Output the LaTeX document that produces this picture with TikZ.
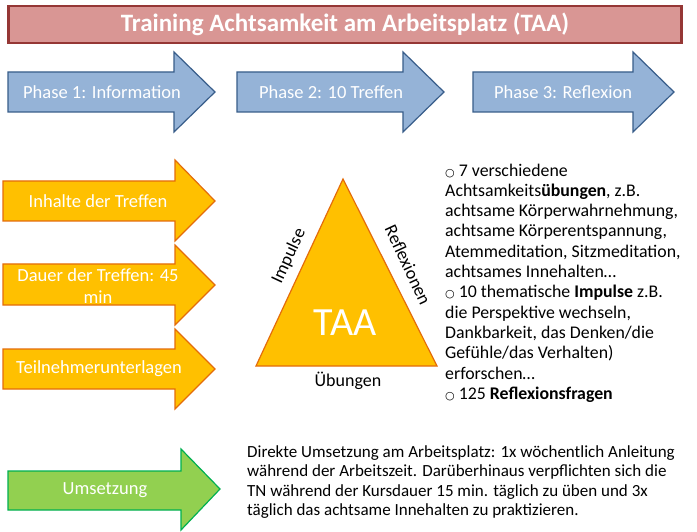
\documentclass[tikz,border=0pt]{standalone}
\usepackage{fontspec}
\setmainfont{Carlito}
\newfontfamily\dejavu{DejaVu Sans}
\definecolor{titleF}{HTML}{D99694}
\definecolor{titleD}{HTML}{953735}
\definecolor{blueF}{HTML}{95B3D7}
\definecolor{blueD}{HTML}{385D8A}
\definecolor{orF}{HTML}{FFC000}
\definecolor{orD}{HTML}{E46C0A}
\definecolor{grF}{HTML}{92D050}
\definecolor{grD}{HTML}{00B050}
\newcommand{\bul}{{\dejavu\fontsize{11}{11}\selectfont ○}}
\tikzset{
  bluearr/.style={fill=blueF, draw=blueD, line width=1.2pt, line join=miter},
  orarr/.style={fill=orF, draw=orD, line width=1.2pt, line join=miter},
  grarr/.style={fill=grF, draw=grD, line width=1.2pt, line join=miter},
  arrtext/.style={text=white, font=\fontsize{18.5}{22}\selectfont, align=center, inner sep=0pt},
  tritext/.style={text=black, font=\fontsize{18}{21}\selectfont, inner sep=0pt},
  bodytext/.style={text=black, align=left, inner sep=0pt, anchor=base west}
}
\begin{document}
\begin{tikzpicture}[x=1pt,y=-1pt]
\useasboundingbox[fill=white] (0,0) rectangle (697,532);
% title
\node[draw=titleD, fill=titleF, line width=2.5pt, minimum width=673pt, minimum height=37pt, inner sep=0pt,
  text=white, font=\bfseries\fontsize{25}{29}\selectfont] (title) at (345,24.5) {Training Achtsamkeit am Arbeitsplatz (TAA)};
% phase arrows
\draw[bluearr] (8,72) -- (174,72) -- (174,52) -- (215,92) -- (174,132) -- (174,112) -- (8,112) -- cycle;
\node[arrtext] (ph1) at (102,92) {Phase 1: Information};
\draw[bluearr] (237,72) -- (403,72) -- (403,52) -- (444,92) -- (403,132) -- (403,112) -- (237,112) -- cycle;
\node[arrtext] (ph2) at (331,92) {Phase 2: 10 Treffen};
\draw[bluearr] (473,72) -- (633,72) -- (633,52) -- (674,92) -- (633,132) -- (633,112) -- (473,112) -- cycle;
\node[arrtext] (ph3) at (563,92) {Phase 3: Reflexion};
% orange arrows
\draw[orarr] (3,181) -- (175,181) -- (175,160) -- (215,201) -- (175,241) -- (175,221) -- (3,221) -- cycle;
\node[arrtext] (inh) at (98,201) {Inhalte der Treffen};
\draw[orarr] (3,264) -- (175,264) -- (175,245) -- (215,285) -- (175,325) -- (175,305) -- (3,305) -- cycle;
\node[arrtext, font=\fontsize{18.5}{22}\selectfont] (dau) at (98,286) {Dauer der Treffen: 45\\min};
\draw[orarr] (3,349) -- (175,349) -- (175,329) -- (215,369) -- (175,409) -- (175,389) -- (3,389) -- cycle;
\node[arrtext] (teil) at (99,369) {Teilnehmerunterlagen};
% triangle
\coordinate (ta) at (343,179);
\coordinate (tr) at (437,366);
\coordinate (tl) at (256,366);
\draw[orarr] (ta) -- (tr) -- (tl) -- cycle;
\node[text=white, font=\fontsize{40}{44}\selectfont, inner sep=0pt] (taa) at (345,323) {TAA};
\node[tritext] (ueb) at (348,381) {Übungen};
\node[tritext, rotate=65] (imp) at (289,256) {Impulse};
\node[tritext, rotate=-65] (ref) at (408,265) {Reflexionen};
% info text (anchor = baseline of last line)
\node[bodytext, font=\fontsize{17.8}{20.3}\selectfont] (info) at (445,399.3) {%
\bul\ 7 verschiedene\\
Achtsamkeits\textbf{übungen}, z.B.\\
achtsame Körperwahrnehmung,\\
achtsame Körperentspannung,\\
Atemmeditation, Sitzmeditation,\\
achtsames Innehalten…\\
\bul\ 10 thematische \textbf{Impulse} z.B.\\
die Perspektive wechseln,\\
Dankbarkeit, das Denken/die\\
Gefühle/das Verhalten)\\
erforschen…\\
\bul\ 125 \textbf{Reflexionsfragen}};
% green arrow
\draw[grarr] (8,471) -- (181,471) -- (181,449) -- (220,489) -- (181,530) -- (181,510) -- (8,510) -- cycle;
\node[arrtext] (ums) at (105,490) {Umsetzung};
\node[bodytext, font=\fontsize{17}{19.3}\selectfont] (para) at (247,515.4) {%
Direkte Umsetzung am Arbeitsplatz: 1x wöchentlich Anleitung\\
während der Arbeitszeit. Darüberhinaus verpflichten sich die\\
TN während der Kursdauer 15 min. täglich zu üben und 3x\\
täglich das achtsame Innehalten zu praktizieren.};
\end{tikzpicture}
\end{document}
